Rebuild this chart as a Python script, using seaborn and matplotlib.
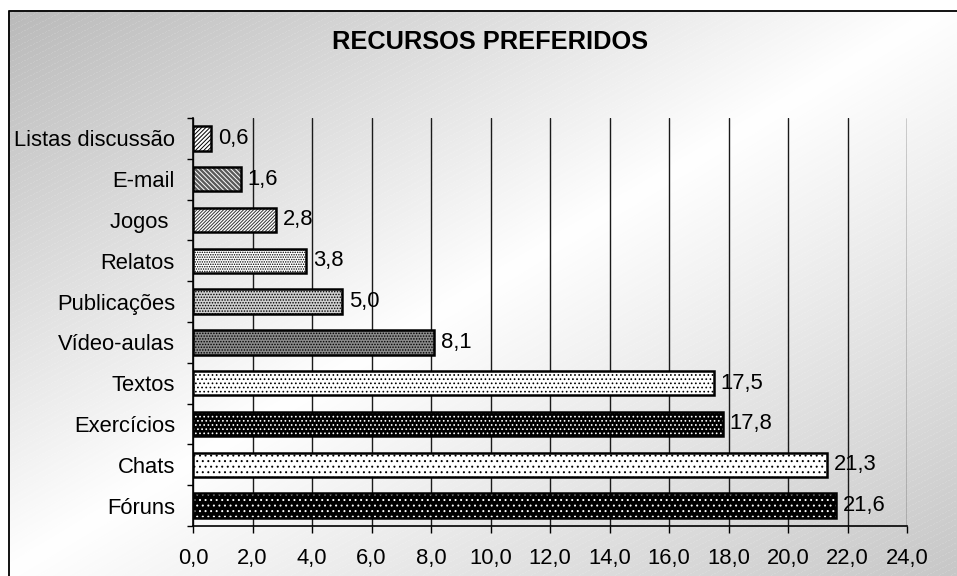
import numpy as np
import matplotlib
matplotlib.use("Agg")
import matplotlib.pyplot as plt
from matplotlib.patches import Rectangle
import seaborn as sns

# Dados
recursos = ["Listas discussão", "E-mail", "Jogos ", "Relatos", "Publicações",
            "Vídeo-aulas", "Textos", "Exercícios", "Chats", "Fóruns"]
valores = [0.6, 1.6, 2.8, 3.8, 5.0, 8.1, 17.5, 17.8, 21.3, 21.6]
marcas_x = [0, 2, 4, 6, 8, 10, 12, 14, 16, 18, 20, 22, 24]
titulo = "RECURSOS PREFERIDOS"

# Preenchimento de cada barra: (cor de fundo, cor da textura, textura)
estilos = [
    ("white", "black", "////////"),
    ("#5a5a5a", "white", "\\\\\\\\\\\\\\"),
    ("white", "#333333", "//////////"),
    ("white", "black", "......."),
    ("#d0d0d0", "black", "......"),
    ("#8a8a8a", "black", "......"),
    ("white", "black", "...."),
    ("black", "white", "...."),
    ("white", "black", "..."),
    ("black", "white", "..."),
]

sns.set_style("white")
plt.rcParams["font.family"] = ["Liberation Sans", "DejaVu Sans"]
plt.rcParams["hatch.linewidth"] = 0.7

W, H = 957, 576
fig = plt.figure(figsize=(W / 100, H / 100), dpi=100)

# Fundo em degradê diagonal com listras claras discretas
yy, xx = np.mgrid[0:H, 0:W].astype(float)
t = (xx / W + yy / H) / 2.0
cinza = np.where(t < 0.5, 0.72 + 0.28 * (t / 0.5), 1.0 - 0.22 * ((t - 0.5) / 0.5))
listra = (((yy + 0.5 * xx) % 6.0) < 1.0) & ((xx % 3) < 2)
cinza = np.where(listra, cinza + (1.0 - cinza) * 0.12, cinza)
cinza[(xx < 8) | (yy < 10)] = 1.0
fundo = fig.add_axes([0, 0, 1, 1], zorder=-10)
fundo.imshow(np.dstack([cinza] * 3), extent=(0, W, H, 0), aspect="auto",
             interpolation="nearest")
fundo.plot([8.5, 8.5, W], [H, 10.5, 10.5], color="black", lw=1.3)
fundo.set_xlim(0, W)
fundo.set_ylim(H, 0)
fundo.axis("off")

ax = fig.add_axes([193 / W, 1 - 526 / H, (907 - 193) / W, (526 - 118) / H])
ax.patch.set_alpha(0)

sns.barplot(x=valores, y=recursos, orient="h", ax=ax, width=0.6,
            color="white", edgecolor="black", linewidth=1.6, zorder=3)

barras = list(ax.patches)
for barra, (fc, hc, hatch) in zip(barras, estilos):
    barra.set_facecolor(fc)
    barra.set_edgecolor(hc)
    barra.set_hatch(hatch)
    barra.set_linewidth(0)
    ax.add_patch(Rectangle(barra.get_xy(), barra.get_width(), barra.get_height(),
                           fill=False, edgecolor="black", lw=1.8, zorder=4))

fs = 15.8
ax.bar_label(ax.containers[0],
             labels=[f"{v:.1f}".replace(".", ",") for v in valores],
             padding=5, fontsize=fs, color="black")

ax.set_xlim(0, 24)
ax.set_ylim(len(recursos) - 0.5, -0.5)
ax.set_xticks(marcas_x)
ax.set_xticklabels([f"{v:.1f}".replace(".", ",") for v in marcas_x])
ax.set_yticks(range(len(recursos)))
ax.set_yticklabels(recursos)
ax.set_yticks(np.arange(-0.5, len(recursos), 1.0), minor=True)
ax.set_xlabel("")
ax.set_ylabel("")

ax.xaxis.grid(True, color="#1a1a1a", lw=1.0)
ax.yaxis.grid(False)
ax.set_axisbelow(True)

for lado in ("top", "right"):
    ax.spines[lado].set_visible(False)
for lado in ("left", "bottom"):
    ax.spines[lado].set_color("black")
    ax.spines[lado].set_linewidth(1.2)

ax.tick_params(axis="x", which="major", direction="out", length=5, width=1,
               color="black", pad=11, labelsize=fs, labelcolor="black", bottom=True)
ax.tick_params(axis="y", which="major", length=0, pad=13, labelsize=fs,
               labelcolor="black")
ax.tick_params(axis="y", which="minor", direction="out", length=4, width=1,
               color="black", left=True)

fig.text(490 / W, 1 - 42 / H, titulo, ha="center", va="center",
         fontsize=18.3, fontweight="bold", color="black")

fig.savefig("out.png", dpi=100)
